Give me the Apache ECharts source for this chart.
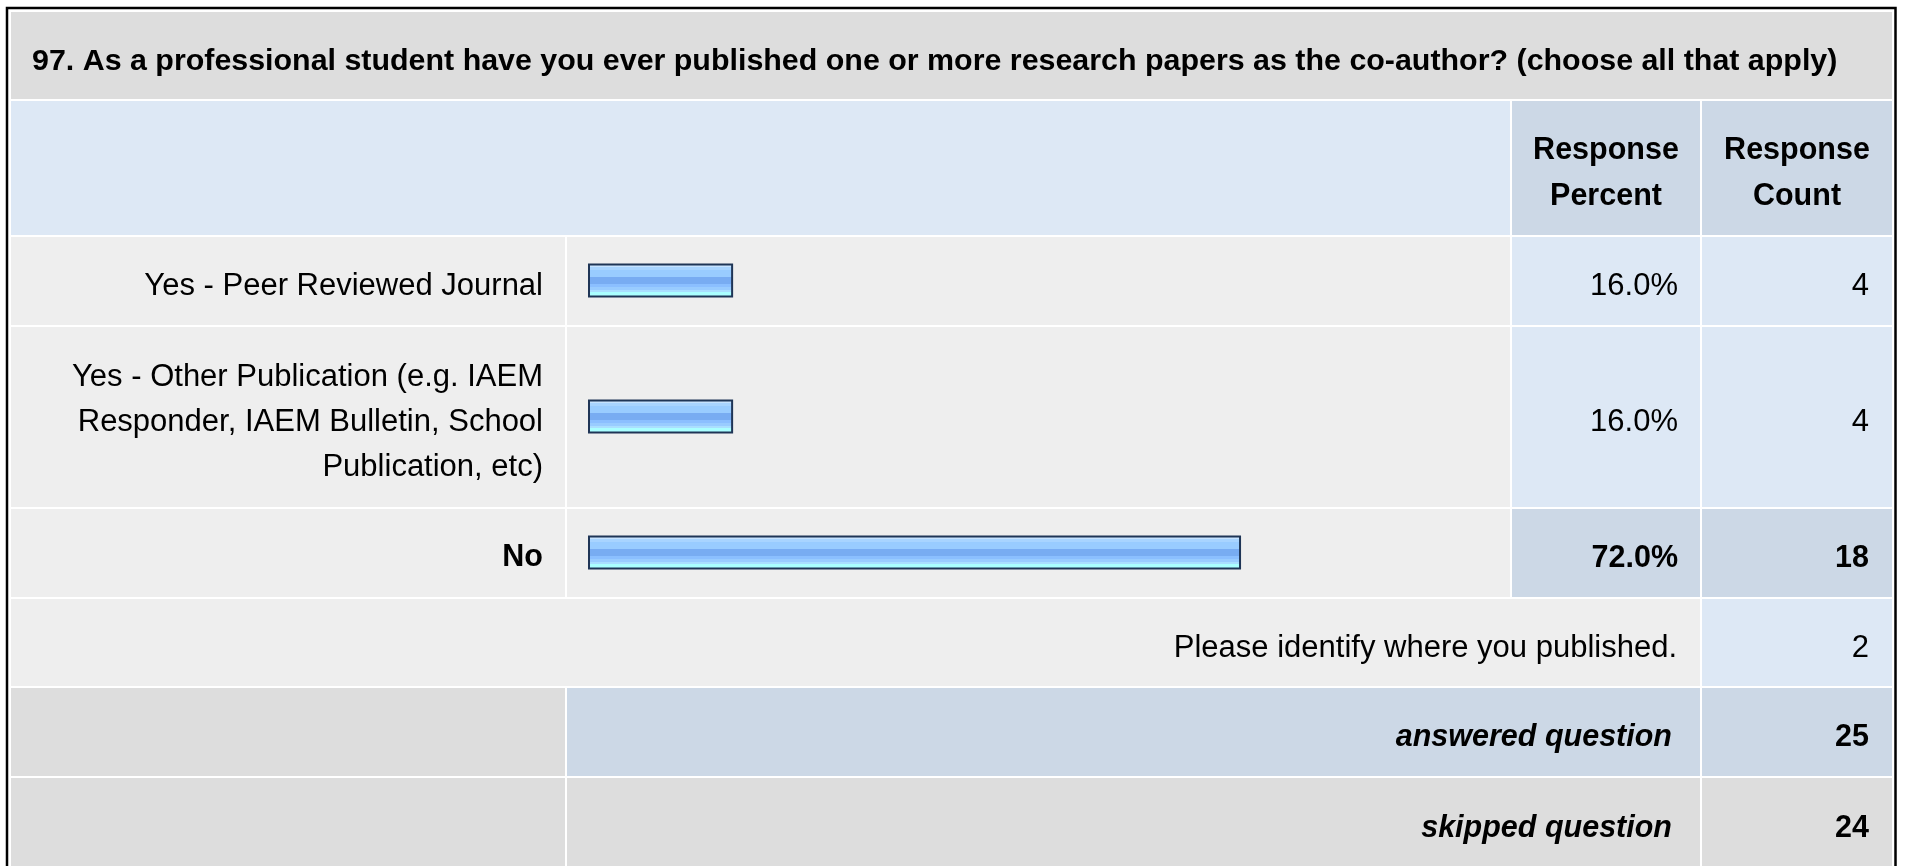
<!DOCTYPE html>
<html><head><meta charset="utf-8">
<script src="https://cdn.jsdelivr.net/npm/echarts@6/dist/echarts.min.js"></script>
<style>html,body{margin:0;padding:0;background:#fff;}#c{width:1907px;height:866px;}</style>
</head><body><div id="c"></div>
<script>
// ---- data ----
const questionTitle = '97. As a professional student have you ever published one or more research papers as the co-author? (choose all that apply)';
const categories = ['Yes - Peer Reviewed Journal', 'Yes - Other Publication (e.g. IAEM\nResponder, IAEM Bulletin, School\nPublication, etc)', 'No'];
const percents = [16.0, 16.0, 72.0];
const counts = [4, 4, 18];
const headerLabels = ['Response\nPercent', 'Response\nCount'];
const otherLabel = 'Please identify where you published.';
const otherCount = 2;
const answeredLabel = 'answered question';
const answeredCount = 25;
const skippedLabel = 'skipped question';
const skippedCount = 24;

// ---- layout & style ----
const FONT = "'Liberation Sans', Arial, Helvetica, sans-serif";
const FS = 31, FSB = 30.5;
const DY = 3.5; // text baseline nudge
const COL = { gray: '#dddddd', light: '#eeeeee', blue: '#dde8f5', blue2: '#ccd8e6' };
const X = { a0: 11, a1: 565, b0: 567, b1: 1510, c0: 1512, c1: 1700, d0: 1702, d1: 1892 };
const Y = { t0: 12, t1: 99, h0: 101, h1: 235, rows: [[237, 325], [327, 507], [509, 597]], o0: 599, o1: 686, a0: 688, a1: 776, s0: 778, s1: 880 };
const hi = percents.indexOf(Math.max.apply(null, percents));

const chart = echarts.init(document.getElementById('c'), null, { renderer: 'canvas' });

function rect(x0, x1, y0, y1, fill) {
  return { type: 'rect', z: -10, silent: true, shape: { x: x0, y: y0, width: x1 - x0, height: y1 - y0 }, style: { fill: fill } };
}
function txt(text, x, y, opt) {
  opt = opt || {};
  return { type: 'text', z: 50, silent: true, x: x, y: y + DY, style: Object.assign({
    text: String(text), fontFamily: FONT, fontSize: FS, fill: '#000', align: 'right', verticalAlign: 'middle'
  }, opt) };
}

const barGradient = {
  type: 'linear', x: 0, y: 0, x2: 0, y2: 1,
  colorStops: [
    { offset: 0, color: '#c6e3ff' }, { offset: 0.09, color: '#c6e3ff' },
    { offset: 0.09, color: '#a8d4ff' }, { offset: 0.19, color: '#a8d4ff' },
    { offset: 0.19, color: '#99ccff' }, { offset: 0.39, color: '#99ccff' },
    { offset: 0.39, color: '#78acf2' }, { offset: 0.60, color: '#78acf2' },
    { offset: 0.60, color: '#8bbfff' }, { offset: 0.68, color: '#8bbfff' },
    { offset: 0.68, color: '#99ccff' }, { offset: 0.78, color: '#99ccff' },
    { offset: 0.78, color: '#aadfff' }, { offset: 0.84, color: '#aadfff' },
    { offset: 0.84, color: '#aaffff' }, { offset: 1, color: '#aaffff' }
  ]
};

chart.setOption({
  animation: false,
  backgroundColor: '#ffffff',
  grid: { left: 588, width: 907, top: 212.5, height: 408, containLabel: false },
  xAxis: { type: 'value', min: 0, max: 100, show: false },
  yAxis: {
    type: 'category', data: categories, inverse: true,
    axisLine: { show: false }, axisTick: { show: false }, splitLine: { show: false },
    axisLabel: {
      margin: 45, fontSize: FS, lineHeight: 45, color: '#000', fontFamily: FONT,
      align: 'right', padding: [4 + 2 * DY, 0, 0, 0],
      formatter: function (v, i) { return i === hi ? '{b|' + v + '}' : v; },
      rich: { b: { fontWeight: 'bold', fontSize: FSB, fontFamily: FONT, color: '#000', lineHeight: 45 } }
    }
  },
  series: [{
    type: 'bar', data: percents, barWidth: 34, silent: true,
    itemStyle: { color: barGradient, borderColor: '#1f3556', borderWidth: 2 }
  }]
});

// build table cells and texts
const els = [];
els.push({ type: 'rect', z: -20, silent: true, shape: { x: 7, y: 8, width: 1888.5, height: 900 }, style: { fill: '#fff', stroke: '#000', lineWidth: 2.5 } });
// title
els.push(rect(X.a0, X.d1, Y.t0, Y.t1, COL.gray));
// header
els.push(rect(X.a0, X.b1, Y.h0, Y.h1, COL.blue));
els.push(rect(X.c0, X.c1, Y.h0, Y.h1, COL.blue2));
els.push(rect(X.d0, X.d1, Y.h0, Y.h1, COL.blue2));
// answer rows
Y.rows.forEach(function (r, i) {
  els.push(rect(X.a0, X.a1, r[0], r[1], COL.light));
  els.push(rect(X.b0, X.b1, r[0], r[1], COL.light));
  const pc = i === hi ? COL.blue2 : COL.blue;
  els.push(rect(X.c0, X.c1, r[0], r[1], pc));
  els.push(rect(X.d0, X.d1, r[0], r[1], pc));
});
// other row
els.push(rect(X.a0, X.c1, Y.o0, Y.o1, COL.light));
els.push(rect(X.d0, X.d1, Y.o0, Y.o1, COL.blue));
// answered
els.push(rect(X.a0, X.a1, Y.a0, Y.a1, COL.gray));
els.push(rect(X.b0, X.c1, Y.a0, Y.a1, COL.blue2));
els.push(rect(X.d0, X.d1, Y.a0, Y.a1, COL.blue2));
// skipped
els.push(rect(X.a0, X.a1, Y.s0, Y.s1, COL.gray));
els.push(rect(X.b0, X.c1, Y.s0, Y.s1, COL.gray));
els.push(rect(X.d0, X.d1, Y.s0, Y.s1, COL.gray));

// texts
els.push(txt(questionTitle, 32, 58.5, { align: 'left', fontWeight: 'bold', fontSize: 30.4 }));
els.push(txt(headerLabels[0], (X.c0 + X.c1) / 2, 170, { align: 'center', fontWeight: 'bold', fontSize: FSB, lineHeight: 46 }));
els.push(txt(headerLabels[1], (X.d0 + X.d1) / 2, 170, { align: 'center', fontWeight: 'bold', fontSize: FSB, lineHeight: 46 }));
const pRight = 1678, cRight = 1869;
categories.forEach(function (c, i) {
  const y = chart.convertToPixel({ yAxisIndex: 0 }, c) + 2.5;
  const o = i === hi ? { fontWeight: 'bold', fontSize: FSB } : {};
  els.push(txt(percents[i].toFixed(1) + '%', pRight, y, o));
  els.push(txt(counts[i], cRight, y, o));
});
els.push(txt(otherLabel, pRight - 1, 644.5));
els.push(txt(otherCount, cRight, 644.5));
els.push(txt(answeredLabel, pRight - 6, 734, { fontWeight: 'bold', fontStyle: 'italic', fontSize: FSB }));
els.push(txt(answeredCount, cRight, 734, { fontWeight: 'bold', fontSize: FSB }));
els.push(txt(skippedLabel, pRight - 6, 825, { fontWeight: 'bold', fontStyle: 'italic', fontSize: FSB }));
els.push(txt(skippedCount, cRight, 825, { fontWeight: 'bold', fontSize: FSB }));

chart.setOption({ graphic: { elements: els } });
</script>
</body></html>
